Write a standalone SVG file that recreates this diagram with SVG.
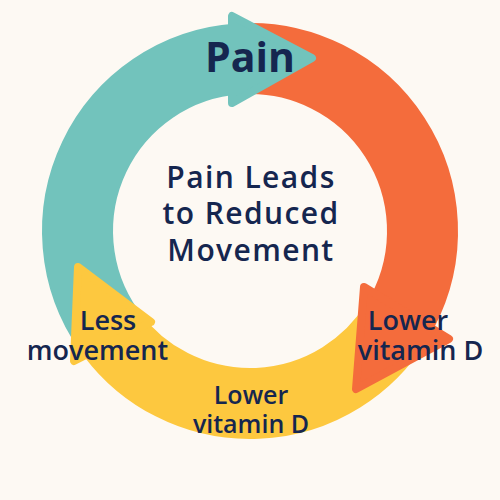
<svg xmlns="http://www.w3.org/2000/svg" width="500" height="500" viewBox="0 0 500 500">
<style>
.body{fill:none;stroke-width:71;stroke-linecap:butt}
.head{stroke-width:8;stroke-linejoin:round}
.teal{stroke:#72C3BC}
.orange{stroke:#F46C3C}
.yellow{stroke:#FDC83F}
.head.teal{fill:#72C3BC}
.head.orange{fill:#F46C3C}
.head.yellow{fill:#FDC83F}
text{font-family:"Open Sans","Noto Sans","Liberation Sans",sans-serif;fill:#15264F;text-anchor:middle}
.big{font-size:41px;font-weight:700}
.title{font-size:30px;font-weight:600;letter-spacing:1.4px}
.lab{font-size:27px;font-weight:600}
.lab2{font-size:25px;font-weight:600}
</style>
<rect width="500" height="500" fill="#FDF9F3"/>
<g id="connectors">
<path class="body teal" d="M108.7,329.9 A172.5,172.5 0 0 1 238.0,58.9"/>
<path class="body orange" d="M238.0,58.9 A172.5,172.5 0 0 1 402.3,312.0"/>
<path class="body yellow" d="M396.3,322.4 A172.5,172.5 0 0 1 112.2,334.8"/>
<polygon class="head teal" points="232,16 232,103 312,58"/>
<polygon class="head orange" points="364,287 449,339 356,389"/>
<polygon class="head yellow" points="78,267 151,322 74,361"/>
</g>
<g id="pain"><text class="big" x="250" y="72">Pain</text></g>
<g id="center"><text class="title" x="251" y="188">Pain Leads</text><text class="title" x="251" y="224">to Reduced</text><text class="title" x="251" y="261">Movement</text></g>
<g id="less-movement"><text class="lab" x="108" y="330">Less</text><text class="lab" x="97.5" y="360">movement</text></g>
<g id="lower-vitamin-d-right"><text class="lab" x="408" y="330">Lower</text><text class="lab" x="420.5" y="360">vitamin D</text></g>
<g id="lower-vitamin-d-bottom"><text class="lab2" x="251" y="404">Lower</text><text class="lab2" x="251" y="433">vitamin D</text></g>
</svg>
